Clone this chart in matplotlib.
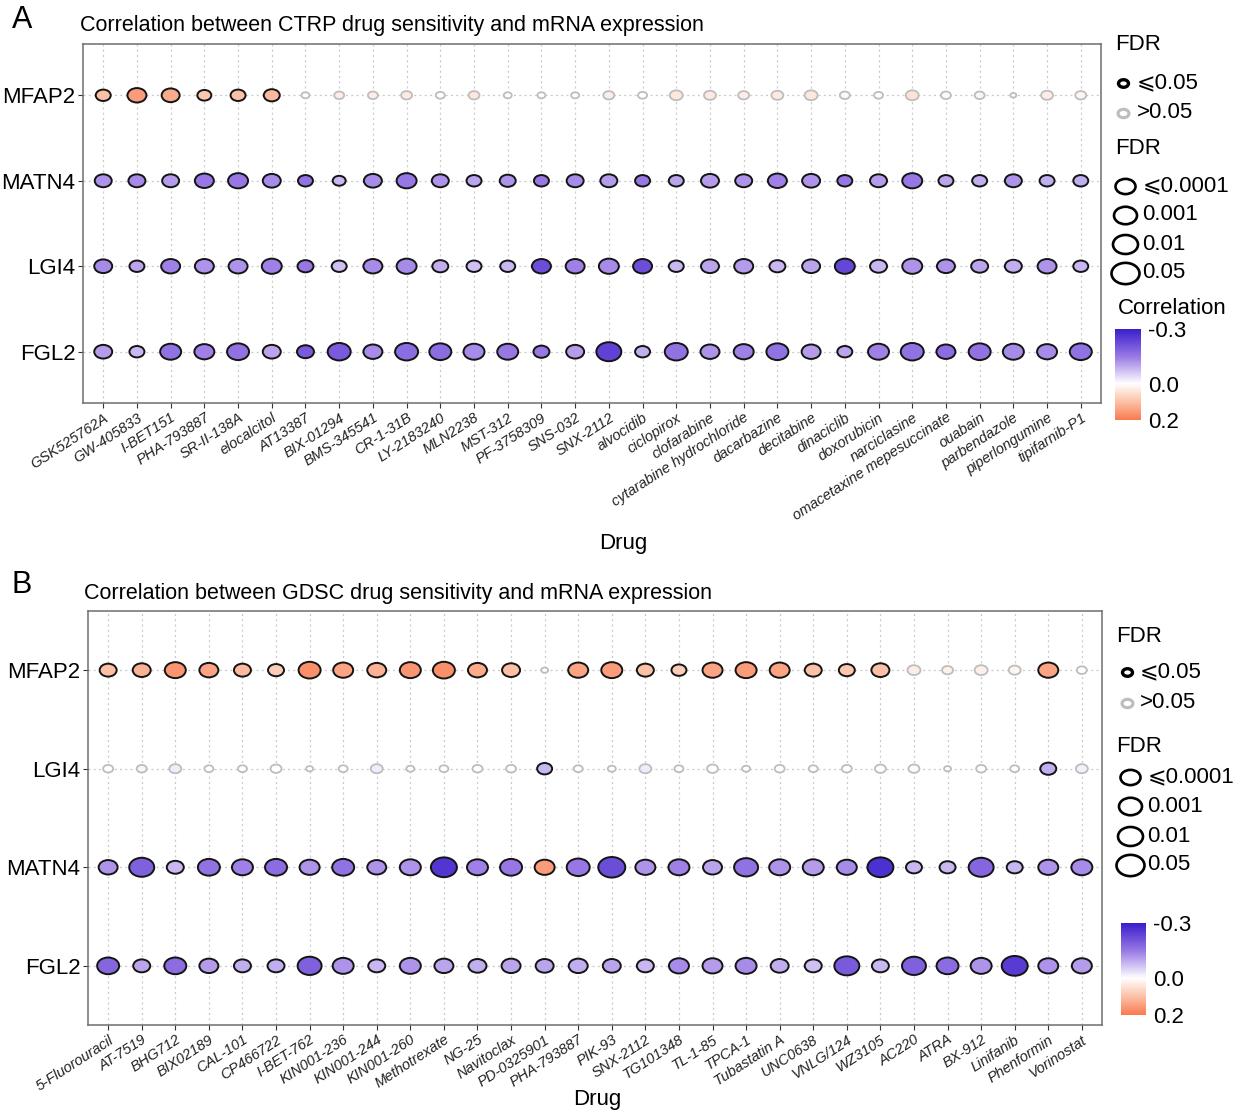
import numpy as np
import matplotlib
matplotlib.use("Agg")
import matplotlib.pyplot as plt
from matplotlib.colors import LinearSegmentedColormap, Normalize
from matplotlib.path import Path
from matplotlib.transforms import Affine2D
from matplotlib.cm import ScalarMappable

# ---------------- data ----------------
drugs_ctrp = ["GSK525762A", "GW-405833", "I-BET151", "PHA-793887", "SR-II-138A", "elocalcitol",
              "AT13387", "BIX-01294", "BMS-345541", "CR-1-31B", "LY-2183240", "MLN2238",
              "MST-312", "PF-3758309", "SNS-032", "SNX-2112", "alvocidib", "ciclopirox",
              "clofarabine", "cytarabine hydrochloride", "dacarbazine", "decitabine",
              "dinaciclib", "doxorubicin", "narciclasine", "omacetaxine mepesuccinate",
              "ouabain", "parbendazole", "piperlongumine", "tipifarnib-P1"]
genes_ctrp = ["MFAP2", "MATN4", "LGI4", "FGL2"]

cor_ctrp_MFAP2 = [0.10, 0.15, 0.13, 0.09, 0.10, 0.11, 0.0, 0.05, 0.05, 0.06, 0.0, 0.07, 0.0, 0.0, 0.0,
                  0.05, 0.0, 0.07, 0.06, 0.05, 0.06, 0.07, 0.02, 0.0, 0.08, 0.02, -0.02, 0.0, 0.05, 0.03]
cor_ctrp_MATN4 = [-0.12, -0.13, -0.11, -0.15, -0.15, -0.13, -0.16, -0.08, -0.13, -0.15, -0.12, -0.10, -0.12, -0.15, -0.13,
                  -0.11, -0.15, -0.10, -0.11, -0.12, -0.14, -0.12, -0.15, -0.11, -0.15, -0.10, -0.09, -0.12, -0.09, -0.09]
cor_ctrp_LGI4 = [-0.13, -0.10, -0.14, -0.12, -0.12, -0.14, -0.15, -0.07, -0.13, -0.13, -0.09, -0.07, -0.08, -0.22, -0.14,
                 -0.13, -0.22, -0.08, -0.10, -0.11, -0.08, -0.10, -0.23, -0.08, -0.12, -0.12, -0.10, -0.09, -0.12, -0.08]
cor_ctrp_FGL2 = [-0.11, -0.08, -0.16, -0.14, -0.16, -0.10, -0.20, -0.20, -0.13, -0.17, -0.17, -0.13, -0.15, -0.15, -0.11,
                 -0.24, -0.09, -0.16, -0.12, -0.14, -0.16, -0.11, -0.10, -0.14, -0.16, -0.17, -0.16, -0.13, -0.13, -0.16]

# -log10(p) (drives dot size)
logp_ctrp_MFAP2 = [5.5, 7.5, 7, 5, 5.5, 6, 2, 3, 3, 3.5, 2.5, 3.5, 2, 2, 2,
                   3.5, 2.5, 4.5, 4, 3.5, 4, 4.5, 3, 2.5, 4.5, 3, 3, 1, 4, 3.5]
logp_ctrp_MATN4 = [6.5, 6.5, 6.5, 7.5, 8, 7, 5.5, 4.5, 7, 8, 6.5, 5.5, 6, 5.5, 6.5,
                   6.5, 5.5, 5.5, 7, 6.5, 7.5, 7, 5.5, 6.5, 8, 5.5, 5.5, 6.5, 5.5, 5.5]
logp_ctrp_LGI4 = [7, 5.5, 7.5, 7.5, 7.5, 8, 6, 5.5, 7.5, 8, 6, 5.5, 5.5, 7.5, 7.5,
                  8, 7.5, 5.5, 7, 7.5, 6, 7, 8, 6.5, 8, 7, 6.5, 6.5, 7.5, 5.5]
logp_ctrp_FGL2 = [7, 5.5, 8.5, 8, 9, 7, 6.5, 9.5, 7.5, 9.5, 9, 8.5, 8.5, 6, 7,
                  10.5, 5.5, 9.5, 7.5, 8, 9, 7.5, 5.5, 8.5, 9.5, 7.5, 9, 8.5, 8, 9]

# FDR <= 0.05 flags
sig_ctrp_MFAP2 = [1] * 6 + [0] * 24
sig_ctrp_MATN4 = [1] * 30
sig_ctrp_LGI4 = [1] * 30
sig_ctrp_FGL2 = [1] * 30

drugs_gdsc = ["5-Fluorouracil", "AT-7519", "BHG712", "BIX02189", "CAL-101", "CP466722", "I-BET-762",
              "KIN001-236", "KIN001-244", "KIN001-260", "Methotrexate", "NG-25", "Navitoclax",
              "PD-0325901", "PHA-793887", "PIK-93", "SNX-2112", "TG101348", "TL-1-85", "TPCA-1",
              "Tubastatin A", "UNC0638", "VNLG/124", "WZ3105", "AC220", "ATRA", "BX-912",
              "Linifanib", "Phenformin", "Vorinostat"]
genes_gdsc = ["MFAP2", "LGI4", "MATN4", "FGL2"]

cor_gdsc_MFAP2 = [0.10, 0.12, 0.16, 0.14, 0.11, 0.08, 0.17, 0.14, 0.12, 0.16, 0.17, 0.13, 0.10, 0.0, 0.14,
                  0.15, 0.10, 0.08, 0.14, 0.15, 0.14, 0.10, 0.09, 0.10, 0.05, 0.04, 0.04, 0.03, 0.14, 0.0]
cor_gdsc_LGI4 = [0.0, -0.02, -0.04, 0.0, 0.0, 0.0, 0.0, 0.0, -0.04, 0.0, 0.0, 0.0, 0.0, -0.08, 0.0,
                 0.0, -0.04, 0.0, 0.0, 0.0, 0.0, 0.0, 0.0, 0.0, -0.01, 0.0, 0.0, 0.0, -0.09, -0.03]
cor_gdsc_MATN4 = [-0.12, -0.19, -0.08, -0.16, -0.14, -0.17, -0.12, -0.16, -0.12, -0.12, -0.26, -0.14, -0.15, 0.15, -0.15,
                  -0.22, -0.12, -0.14, -0.10, -0.16, -0.12, -0.11, -0.13, -0.27, -0.08, -0.08, -0.18, -0.08, -0.12, -0.13]
cor_gdsc_FGL2 = [-0.18, -0.10, -0.17, -0.11, -0.09, -0.09, -0.19, -0.12, -0.08, -0.12, -0.10, -0.09, -0.10, -0.10, -0.09,
                 -0.10, -0.08, -0.13, -0.11, -0.13, -0.09, -0.07, -0.20, -0.08, -0.19, -0.17, -0.12, -0.25, -0.12, -0.11]

logp_gdsc_MFAP2 = [6.5, 7, 8.5, 7.5, 6.5, 6, 9, 8, 7.5, 8.5, 9, 7.5, 7, 1.5, 8,
                   8.5, 6.5, 5.5, 8, 8.5, 8, 6.5, 6, 7, 4.5, 3.5, 4.5, 4, 8, 3]
logp_gdsc_LGI4 = [3, 3, 4, 2.5, 2.5, 3.5, 1.5, 2.5, 4, 2, 2.5, 3, 3, 5.5, 2.5,
                  2, 4, 2.5, 3.5, 2, 3, 2.5, 3, 3.5, 3.5, 1.5, 3, 2.5, 6, 4]
logp_gdsc_MATN4 = [7.5, 10.5, 6.5, 9, 8.5, 9, 8, 9, 7.5, 8.5, 11, 8.5, 9, 8, 9.5,
                   11.5, 8, 8.5, 7.5, 10, 8.5, 8.5, 8, 11, 6, 6, 10.5, 6, 8, 8.5]
logp_gdsc_FGL2 = [9, 6.5, 9, 7.5, 6.5, 6.5, 10, 8.5, 6.5, 8.5, 7.5, 7, 7.5, 7, 7.5,
                  7, 6.5, 8, 8, 8.5, 7, 6.5, 10.5, 6.5, 10, 9, 8.5, 11, 8, 8]

sig_gdsc_MFAP2 = [1] * 13 + [0] + [1] * 10 + [0, 0, 0, 0, 1, 0]
sig_gdsc_LGI4 = [0] * 13 + [1] + [0] * 14 + [1, 0]
sig_gdsc_MATN4 = [1] * 30
sig_gdsc_FGL2 = [1] * 30

fdr_labels_sig = ["\u2a7d0.05", ">0.05"]
fdr_labels_size = ["\u2a7d0.0001", "0.001", "0.01", "0.05"]
cbar_ticks = [-0.3, 0.0, 0.2]

# ---------------- style ----------------
W, H = 1250, 1114
PT = 72.0 / 100.0
FONT = ["Liberation Sans", "DejaVu Sans"]
plt.rcParams["font.family"] = FONT

cmap = LinearSegmentedColormap.from_list(
    "cor", [(0.0, "#3A1ECB"), (0.3, "#9878E4"), (0.6, "#FFFFFF"), (0.8, "#FCC0A6"), (1.0, "#F97A50")])
norm = Normalize(vmin=-0.3, vmax=0.2)

ELL = Path.unit_circle().transformed(Affine2D().scale(1.0, 0.76))


def msize(diam_px):
    return (np.asarray(diam_px, dtype=float) * PT) ** 2


def rect(l, t, r, b):
    return [l / W, 1 - b / H, (r - l) / W, (b - t) / H]


fig = plt.figure(figsize=(W / 100, H / 100), dpi=100)


def draw_panel(ax, drugs, genes, cors, logps, sigs):
    n = len(drugs)
    ng = len(genes)
    xs = np.arange(1, n + 1)
    for gi in range(ng):
        y = np.full(n, ng - gi)
        c = np.asarray(cors[gi], dtype=float)
        lp = np.asarray(logps[gi], dtype=float)
        sg = np.asarray(sigs[gi], dtype=bool)
        face = cmap(norm(c))
        face_ns = face.copy()
        face_ns[:, :3] = 0.55 * face[:, :3] + 0.45
        d = 4 + 2 * lp
        ax.scatter(xs[~sg], y[~sg], s=msize(d[~sg]), marker=ELL, c=face_ns[~sg],
                   edgecolors="#BDBDBD", linewidths=1.3, zorder=3)
        ax.scatter(xs[sg], y[sg], s=msize(d[sg]), marker=ELL, c=face[sg],
                   edgecolors="#141414", linewidths=1.4, zorder=4)
    ax.set_xlim(0.4, n + 0.6)
    ax.set_ylim(0.4, ng + 0.6)
    ax.set_yticks(np.arange(1, ng + 1))
    ax.set_yticklabels(genes[::-1], fontsize=16)
    ax.set_xticks(xs)
    ax.set_xticklabels(drugs, rotation=33, ha="right", va="top", rotation_mode="anchor",
                       fontsize=10.5, fontstyle="italic", color="#222222")
    ax.tick_params(axis="both", length=3.5, width=0.8, color="#333333", pad=2)
    ax.grid(True, linestyle=(0, (1.6, 2.6)), color="#C9C9C9", linewidth=0.9)
    ax.set_axisbelow(True)
    for sp in ax.spines.values():
        sp.set_color("#6E6E6E")
        sp.set_linewidth(1.1)


axA = fig.add_axes(rect(83, 44, 1101, 403))
draw_panel(axA, drugs_ctrp, genes_ctrp,
           [cor_ctrp_MFAP2, cor_ctrp_MATN4, cor_ctrp_LGI4, cor_ctrp_FGL2],
           [logp_ctrp_MFAP2, logp_ctrp_MATN4, logp_ctrp_LGI4, logp_ctrp_FGL2],
           [sig_ctrp_MFAP2, sig_ctrp_MATN4, sig_ctrp_LGI4, sig_ctrp_FGL2])

axB = fig.add_axes(rect(88, 611, 1102, 1025))
draw_panel(axB, drugs_gdsc, genes_gdsc,
           [cor_gdsc_MFAP2, cor_gdsc_LGI4, cor_gdsc_MATN4, cor_gdsc_FGL2],
           [logp_gdsc_MFAP2, logp_gdsc_LGI4, logp_gdsc_MATN4, logp_gdsc_FGL2],
           [sig_gdsc_MFAP2, sig_gdsc_LGI4, sig_gdsc_MATN4, sig_gdsc_FGL2])

# colorbars
for (l, t, r, b) in [(1115, 329, 1141, 420), (1121, 923, 1146, 1015)]:
    cax = fig.add_axes(rect(l, t, r, b))
    cb = fig.colorbar(ScalarMappable(norm=norm, cmap=cmap), cax=cax)
    cb.outline.set_visible(False)
    cb.set_ticks(cbar_ticks)
    cb.set_ticklabels([f"{v:.1f}" for v in cbar_ticks])
    cax.invert_yaxis()
    cax.tick_params(length=0, labelsize=16, pad=5)

# overlay for text and legends
ov = fig.add_axes([0, 0, 1, 1])
ov.set_xlim(0, W)
ov.set_ylim(H, 0)
ov.axis("off")

ov.text(12, 20, "A", fontsize=22, va="center", ha="left")
ov.text(12, 585, "B", fontsize=22, va="center", ha="left")
ov.text(80, 25, "Correlation between CTRP drug sensitivity and mRNA expression",
        fontsize=15.5, va="center", ha="left")
ov.text(84, 593, "Correlation between GDSC drug sensitivity and mRNA expression",
        fontsize=15.5, va="center", ha="left")
ov.text(623, 544, "Drug", fontsize=16, va="center", ha="center")
ov.text(597, 1100, "Drug", fontsize=16, va="center", ha="center")


def legend(y_fdr1, key_x, key_y, lab_x, y_fdr2, size_x, size_y, size_lab_x, title_x):
    ov.text(title_x, y_fdr1, "FDR", fontsize=16, va="center", ha="left")
    ov.scatter([key_x], [key_y[0]], s=msize(10), marker=ELL, facecolor="white",
               edgecolors="black", linewidths=2.4)
    ov.scatter([key_x], [key_y[1]], s=msize(11), marker=ELL, facecolor="white",
               edgecolors="#BDBDBD", linewidths=2.2)
    for yy, lab in zip(key_y, fdr_labels_sig):
        ov.text(lab_x, yy, lab, fontsize=16, va="center", ha="left", family=FONT)
    ov.text(title_x, y_fdr2, "FDR", fontsize=16, va="center", ha="left")
    for yy, dd, lab, lx in zip(size_y, [20, 23, 25, 28], fdr_labels_size, size_lab_x):
        ov.scatter([size_x], [yy], s=msize(dd), marker=ELL, facecolor="white",
                   edgecolors="black", linewidths=1.9)
        ov.text(lx, yy, lab, fontsize=16, va="center", ha="left", family=FONT)


legend(45, 1123, [83, 113], 1137, 148, 1125, [186, 215, 244, 273],
       [1143, 1142, 1142, 1142], 1115)
ov.text(1118, 308, "Correlation", fontsize=16, va="center", ha="left")
legend(636, 1127, [672, 703], 1140, 747, 1130, [777, 806, 836, 865],
       [1148, 1147, 1147, 1147], 1116)

fig.savefig("out.png", dpi=100)
